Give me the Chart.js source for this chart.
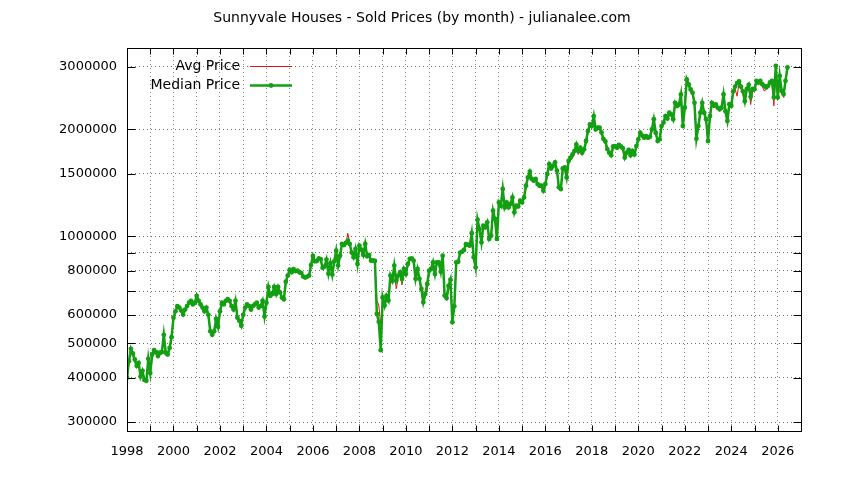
<!DOCTYPE html>
<html>
<head>
<meta charset="utf-8">
<script src="https://cdn.jsdelivr.net/npm/chart.js@4.4.1/dist/chart.umd.min.js"></script>
<style>
  html, body { margin: 0; padding: 0; background: #ffffff; }
</style>
</head>
<body>
<canvas id="price-chart" width="844" height="480"></canvas>
<script>
// monthly values starting Jan 1998, in thousands of dollars
const startYear = 1998;

const medianPrice = [
  400, 445, 482, 468, 450, 432, 440, 403, 418, 394, 392, 452, // 1998
  412, 465, 478, 472, 460, 470, 472, 528, 470, 465, 485, 520, // 1999
  590, 615, 636, 630, 618, 602, 622, 636, 650, 658, 643, 650, // 2000
  680, 658, 643, 630, 615, 630, 601, 540, 528, 540, 585, 556, // 2001
  615, 650, 643, 658, 665, 658, 636, 622, 658, 590, 578, 560, // 2002
  601, 630, 643, 636, 622, 636, 643, 650, 630, 636, 658, 595, // 2003
  650, 720, 680, 688, 720, 688, 720, 695, 672, 665, 745, 775, // 2004
  805, 792, 808, 798, 800, 792, 788, 770, 765, 770, 775, 830, // 2005
  880, 850, 852, 865, 862, 815, 822, 860, 785, 840, 780, 850, // 2006
  911, 827, 882, 952, 945, 958, 972, 952, 901, 873, 921, 836, // 2007
  941, 917, 886, 952, 878, 886, 854, 855, 852, 605, 575, 478, // 2008
  673, 638, 680, 660, 775, 750, 827, 750, 775, 792, 758, 809, // 2009
  783, 836, 864, 867, 854, 759, 809, 759, 711, 652, 688, 734, // 2010
  800, 809, 845, 783, 845, 845, 795, 882, 681, 670, 725, 755, // 2011
  573, 635, 845, 848, 900, 905, 915, 950, 948, 942, 1020, 873, // 2012
  818, 1114, 1049, 962, 1071, 1060, 1095, 983, 1004, 1181, 1119, 983, // 2013
  1246, 1219, 1359, 1206, 1246, 1206, 1233, 1287, 1168, 1219, 1214, 1260, // 2014
  1246, 1287, 1388, 1465, 1520, 1450, 1434, 1450, 1403, 1388, 1388, 1344, // 2015
  1403, 1497, 1597, 1553, 1580, 1615, 1530, 1374, 1359, 1553, 1563, 1465, // 2016
  1630, 1664, 1700, 1738, 1814, 1738, 1776, 1720, 1757, 1855, 1980, 2066, // 2017
  2044, 2181, 2000, 2022, 2022, 1960, 1880, 1850, 1760, 1720, 1690, 1790, // 2018
  1795, 1776, 1810, 1790, 1770, 1666, 1720, 1750, 1690, 1740, 1700, 1795, // 2019
  1875, 1957, 1922, 1895, 1915, 1895, 1906, 2000, 2136, 1957, 1855, 1875, // 2020
  2044, 2090, 2181, 2145, 2228, 2204, 2136, 2376, 2326, 2350, 2509, 2044, // 2021
  2302, 2764, 2676, 2592, 2536, 2376, 1883, 2044, 2228, 2376, 2228, 2136, // 2022
  1855, 2181, 2376, 2335, 2350, 2302, 2278, 2302, 2509, 2250, 2113, 2355, // 2023
  2333, 2560, 2640, 2700, 2730, 2640, 2560, 2400, 2600, 2670, 2470, 2600, // 2024
  2596, 2740, 2712, 2740, 2682, 2653, 2625, 2653, 2712, 2740, 2460, 3020, // 2025
  2460, 2830, 2567, 2514, 2740, 2990 // 2026
];

const avgPrice = [
  385, 440, 470, 460, 445, 425, 435, 400, 410, 390, 395, 445, // 1998
  405, 455, 470, 465, 455, 462, 468, 515, 462, 460, 478, 510, // 1999
  580, 610, 628, 625, 612, 598, 615, 630, 642, 650, 640, 645, // 2000
  672, 650, 640, 620, 610, 622, 595, 535, 525, 535, 575, 550, // 2001
  605, 642, 638, 650, 660, 650, 630, 615, 650, 585, 572, 555, // 2002
  595, 622, 638, 630, 615, 630, 638, 645, 622, 630, 650, 590, // 2003
  645, 712, 675, 680, 712, 682, 712, 690, 668, 660, 738, 768, // 2004
  798, 785, 800, 792, 795, 785, 780, 765, 760, 762, 770, 822, // 2005
  875, 860, 845, 880, 855, 808, 830, 852, 790, 832, 775, 845, // 2006
  905, 835, 875, 945, 940, 950, 1020, 960, 895, 868, 915, 830, // 2007
  935, 910, 880, 945, 870, 878, 850, 848, 845, 660, 640, 565, // 2008
  640, 630, 665, 650, 760, 735, 810, 712, 760, 780, 730, 795, // 2009
  775, 825, 855, 860, 845, 750, 798, 750, 700, 640, 678, 705, // 2010
  790, 800, 835, 775, 835, 830, 785, 865, 670, 660, 700, 745, // 2011
  585, 628, 835, 840, 890, 895, 905, 940, 935, 930, 1005, 860, // 2012
  810, 1095, 1035, 950, 1060, 1045, 1080, 970, 990, 1165, 1105, 970, // 2013
  1230, 1205, 1340, 1190, 1230, 1195, 1220, 1270, 1155, 1205, 1200, 1245, // 2014
  1235, 1270, 1370, 1450, 1500, 1435, 1420, 1435, 1390, 1375, 1372, 1330, // 2015
  1390, 1480, 1580, 1535, 1565, 1600, 1515, 1360, 1345, 1535, 1548, 1450, // 2016
  1600, 1640, 1660, 1700, 1780, 1700, 1745, 1690, 1730, 1820, 1950, 2040, // 2017
  2020, 2150, 1980, 2000, 2000, 1940, 1860, 1820, 1740, 1700, 1670, 1770, // 2018
  1775, 1755, 1790, 1770, 1750, 1645, 1700, 1730, 1670, 1720, 1680, 1770, // 2019
  1855, 1935, 1900, 1875, 1895, 1875, 1885, 1975, 2110, 1935, 1835, 1855, // 2020
  2020, 2065, 2155, 2120, 2200, 2180, 2110, 2345, 2300, 2320, 2480, 2020, // 2021
  2275, 2730, 2645, 2560, 2505, 2350, 1860, 2020, 2200, 2350, 2200, 2110, // 2022
  1830, 2150, 2345, 2300, 2320, 2275, 2250, 2270, 2480, 2220, 2090, 2320, // 2023
  2300, 2520, 2600, 2480, 2690, 2600, 2520, 2370, 2560, 2630, 2350, 2560, // 2024
  2560, 2700, 2670, 2700, 2640, 2567, 2590, 2620, 2680, 2700, 2330, 2900, // 2025
  2420, 2790, 2530, 2460, 2700, 2950 // 2026
];

const yearTicks = [];
for (let y = 1998; y <= 2027; y++) yearTicks.push(y);
const yearLabels = [1998, 2000, 2002, 2004, 2006, 2008, 2010, 2012, 2014, 2016, 2018, 2020, 2022, 2024, 2026];

const yGridValues = [300000, 400000, 500000, 600000, 700000, 800000, 900000, 1000000, 1500000, 2000000, 3000000];
const yLabelValues = [300000, 400000, 500000, 600000, 800000, 1000000, 1500000, 2000000, 3000000];

const avgColor = "#d81818";
const medianColor = "#12a012";
const font = '"DejaVu Sans", sans-serif';

function toPoints(values) {
  return values.map((v, i) => ({ x: startYear + i / 12, y: v * 1000 }));
}

// gnuplot look: full frame, inward tics, title and key inside the plot
const gnuplotDecor = {
  id: "gnuplotDecor",
  afterDraw(chart) {
    const ctx = chart.ctx;
    const area = chart.chartArea;
    const xs = chart.scales.x;
    const ys = chart.scales.y;
    ctx.save();
    ctx.strokeStyle = "#000";
    ctx.lineWidth = 1;
    ctx.setLineDash([]);
    const L = Math.round(area.left) + 0.5, R = Math.round(area.right) + 0.5;
    const T = Math.round(area.top) + 0.5, B = Math.round(area.bottom) + 0.5;
    ctx.strokeRect(L, T, R - L, B - T);

    ctx.beginPath();
    yearTicks.forEach((yr) => {
      const px = Math.round(xs.getPixelForValue(yr)) + 0.5;
      ctx.moveTo(px, B); ctx.lineTo(px, B - 6);
      ctx.moveTo(px, T); ctx.lineTo(px, T + 6);
    });
    yGridValues.forEach((v) => {
      const py = Math.round(ys.getPixelForValue(v)) + 0.5;
      ctx.moveTo(L, py); ctx.lineTo(L + 8, py);
      ctx.moveTo(R, py); ctx.lineTo(R - 8, py);
    });
    ctx.stroke();

    // title
    ctx.fillStyle = "#000";
    ctx.font = "14px " + font;
    ctx.textAlign = "center";
    ctx.textBaseline = "middle";
    ctx.fillText("Sunnyvale Houses - Sold Prices (by month) - julianalee.com", 422, 18);

    // key
    ctx.font = "14px " + font;
    ctx.textAlign = "right";
    const keyRows = [
      { label: chart.data.datasets[1].label, color: avgColor, width: 1, dot: false, y: 66 },
      { label: chart.data.datasets[0].label, color: medianColor, width: 2.5, dot: true, y: 85 },
    ];
    keyRows.forEach((row) => {
      ctx.fillStyle = "#000";
      ctx.fillText(row.label, 240, row.y);
      ctx.strokeStyle = row.color;
      ctx.lineWidth = row.width;
      ctx.beginPath();
      ctx.moveTo(250, row.y + 0.5);
      ctx.lineTo(292, row.y + 0.5);
      ctx.stroke();
      if (row.dot) {
        ctx.fillStyle = row.color;
        ctx.beginPath();
        ctx.arc(271, row.y + 0.5, 2.4, 0, Math.PI * 2);
        ctx.fill();
      }
    });
    ctx.restore();
  },
};

const ctx = document.getElementById("price-chart").getContext("2d");

new Chart(ctx, {
  type: "line",
  data: {
    datasets: [
      {
        label: "Median Price",
        data: toPoints(medianPrice),
        borderColor: medianColor,
        backgroundColor: medianColor,
        borderWidth: 2.5,
        pointRadius: 2.4,
        pointBorderWidth: 0,
        pointBackgroundColor: medianColor,
        tension: 0,
        order: 0,
      },
      {
        label: "Avg Price",
        data: toPoints(avgPrice),
        borderColor: avgColor,
        backgroundColor: avgColor,
        borderWidth: 1,
        pointRadius: 0,
        tension: 0,
        order: 1,
      },
    ],
  },
  options: {
    responsive: false,
    animation: false,
    devicePixelRatio: 1,
    layout: { padding: { top: 48, right: 43, left: 0, bottom: 0 } },
    plugins: {
      legend: { display: false },
      title: { display: false },
      tooltip: { enabled: false },
    },
    scales: {
      x: {
        type: "linear",
        min: 1998,
        max: 2027,
        afterBuildTicks: (scale) => {
          scale.ticks = yearTicks.map((v) => ({ value: v }));
        },
        afterFit: (scale) => {
          scale.height = 49;
        },
        ticks: {
          autoSkip: false,
          maxRotation: 0,
          padding: 13,
          color: "#000",
          font: { family: font, size: 13 },
          callback: (v) => (yearLabels.includes(v) ? String(v) : ""),
        },
        grid: { color: "#8c8c8c", drawTicks: false, lineWidth: 1 },
        border: { display: false, dash: [1, 3] },
      },
      y: {
        type: "logarithmic",
        min: 283000,
        max: 3390000,
        afterBuildTicks: (scale) => {
          scale.ticks = yGridValues.map((v) => ({ value: v }));
        },
        afterFit: (scale) => {
          scale.width = 127;
        },
        ticks: {
          autoSkip: false,
          padding: 10,
          color: "#000",
          font: { family: font, size: 13 },
          callback: (v) => (yLabelValues.includes(v) ? String(v) : ""),
        },
        grid: { color: "#707070", drawTicks: false, lineWidth: 1 },
        border: { display: false, dash: [1, 3] },
      },
    },
  },
  plugins: [gnuplotDecor],
});
</script>
</body>
</html>
